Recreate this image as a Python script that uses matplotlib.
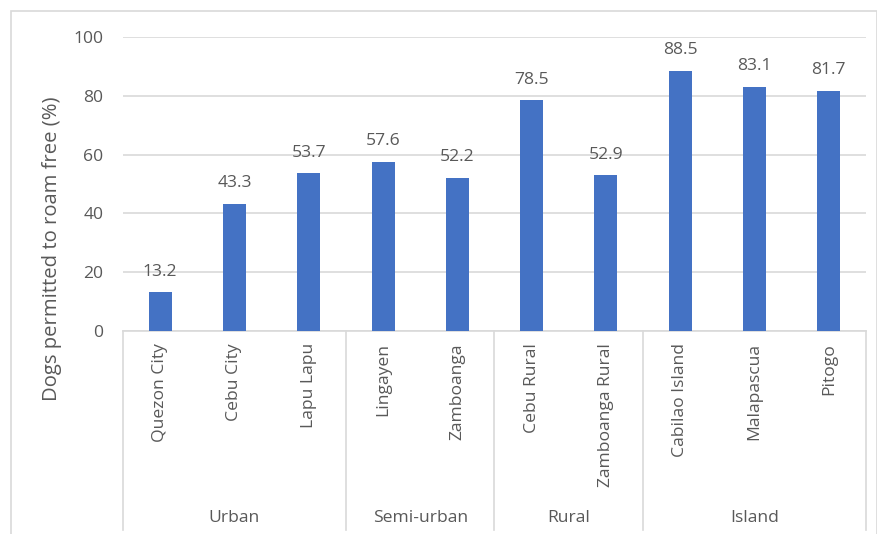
import matplotlib
matplotlib.use("Agg")
import matplotlib.pyplot as plt
from matplotlib.transforms import blended_transform_factory

# data
sites = ["Quezon City", "Cebu City", "Lapu Lapu", "Lingayen", "Zamboanga",
         "Cebu Rural", "Zamboanga Rural", "Cabilao Island", "Malapascua", "Pitogo"]
roam_free = [13.2, 43.3, 53.7, 57.6, 52.2, 78.5, 52.9, 88.5, 83.1, 81.7]
groups = ["Urban", "Semi-urban", "Rural", "Island"]
group_sizes = [3, 2, 2, 3]

plt.rcParams["font.family"] = ["Open Sans", "DejaVu Sans"]
txt = "#595959"
line_col = "#d9d9d9"
fs = 12.6

W, H = 878, 534
fig = plt.figure(figsize=(W / 100, H / 100), dpi=100)

def fx(px):
    return px / W

def fy(py):
    return 1 - py / H

ax = fig.add_axes([fx(123), fy(331), fx(866) - fx(123), fy(37) - fy(331)])

x = list(range(len(sites)))
bars = ax.bar(x, roam_free, width=0.31, color="#4472C4", zorder=3)
for b, v in zip(bars, roam_free):
    ax.annotate(f"{v:.1f}", (b.get_x() + b.get_width() / 2, v),
                xytext=(0, 9), textcoords="offset points",
                ha="center", va="bottom", fontsize=fs, color=txt)

ax.set_xlim(-0.5, len(sites) - 0.5)
ax.set_ylim(0, 100)
ax.set_yticks(range(0, 101, 20))
ax.yaxis.grid(True, color=line_col, linewidth=1.2, zorder=0)
ax.tick_params(axis="y", length=0, labelsize=fs, labelcolor=txt, pad=14)
ax.set_xticks([])
for s in ["top", "right", "left"]:
    ax.spines[s].set_visible(False)
ax.spines["bottom"].set_color(line_col)
ax.spines["bottom"].set_linewidth(1.2)

# multi-level category axis
tr = blended_transform_factory(ax.transData, fig.transFigure)
for xi, name in zip(x, sites):
    fig.text(xi, fy(343), name, transform=tr, rotation=90, ha="center", va="top",
             fontsize=fs, color=txt)

bounds = [-0.5]
for n in group_sizes:
    bounds.append(bounds[-1] + n)
for xb in bounds:
    ax.plot([xb, xb], [fy(331), fy(530)], transform=tr, color=line_col,
            linewidth=1.2, clip_on=False)
for g, a, b in zip(groups, bounds[:-1], bounds[1:]):
    fig.text((a + b) / 2, fy(518), g, transform=tr, ha="center", va="center",
             fontsize=fs, color=txt)

fig.text(fx(52), fy(249), "Dogs permitted to roam free (%)", rotation=90,
         ha="center", va="center", fontsize=14.6, color=txt)

# chart border
fig.patches.append(plt.Rectangle((fx(11), fy(540)), fx(877) - fx(11) - 0.0005,
                                 fy(11) - fy(540), transform=fig.transFigure,
                                 fill=False, edgecolor=line_col, linewidth=1.2))

fig.savefig("out.png", dpi=100)
